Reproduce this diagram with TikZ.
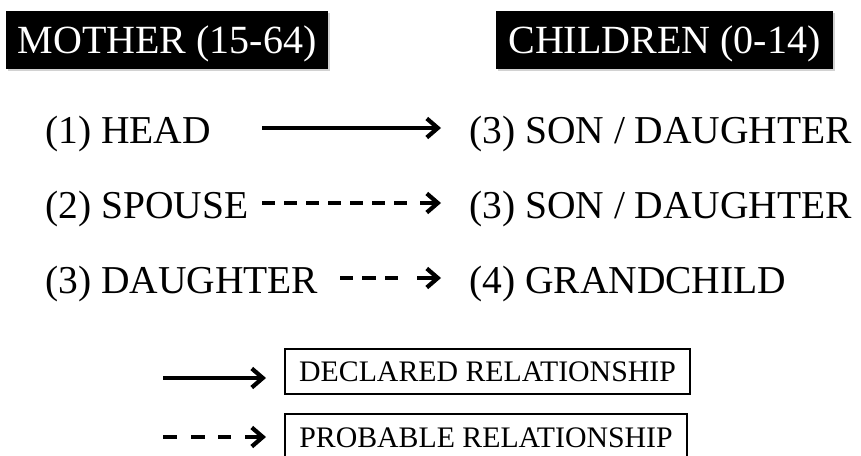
\documentclass[tikz,border=0pt]{standalone}
\usepackage{fontspec}
\setmainfont{Liberation Serif}
\usetikzlibrary{arrows.meta,shadows}
\begin{document}
\begin{tikzpicture}[x=1pt,y=-1pt,
  hdr/.style={fill=black,text=white,inner sep=0pt,minimum height=58pt,
    text height=27.5pt,text depth=0pt,font=\fontsize{40}{48}\selectfont,
    drop shadow={shadow xshift=1.5pt,shadow yshift=-1.5pt,opacity=0.35}},
  rowtxt/.style={anchor=base west,inner sep=0pt,font=\fontsize{39.5}{46}\selectfont},
  legbox/.style={draw,line width=2pt,inner sep=0pt,minimum height=45pt,
    text height=19.5pt,text depth=0pt,font=\fontsize{29.8}{34}\selectfont},
  rel/.style={line width=4.6pt,-{Straight Barb[length=11pt,width=19pt,line width=4.2pt]}},
  solidrel/.style={rel}]
\useasboundingbox (0,0) rectangle (861,455);
\clip (0,0) rectangle (861,455);
\fill[white] (0,0) rectangle (861,455);
% headers
\node[hdr,minimum width=322pt] (mother) at (167,40) {MOTHER (15-64)};
\node[hdr,minimum width=337pt] (children) at (664.5,40) {CHILDREN (0-14)};
% rows
\node[rowtxt] (head) at (45,143) {(1) HEAD};
\node[rowtxt] (spouse) at (45,218) {(2) SPOUSE};
\node[rowtxt] (dau) at (45,293) {(3) DAUGHTER};
\node[rowtxt] (son1) at (469,143) {(3) SON / DAUGHTER};
\node[rowtxt] (son2) at (469,218) {(3) SON / DAUGHTER};
\node[rowtxt] (grand) at (469,293) {(4) GRANDCHILD};
\coordinate (s1) at (262,128);
\coordinate (s2) at (262,203);
\coordinate (s3) at (340,278);
\draw[solidrel,shorten >=28pt] (s1) -- (s1 -| son1.west);
\draw[rel,shorten >=28pt,dash pattern=on 13pt off 9pt on 13pt off 9pt on 13pt off 9pt on 13pt off 9pt on 13pt off 9pt on 13pt off 9pt on 13pt off 13pt on 60pt] (s2) -- (s2 -| son2.west);
\draw[rel,shorten >=28pt,dash pattern=on 13pt off 9pt on 14pt off 9pt on 13pt off 19pt on 60pt] (s3) -- (s3 -| grand.west);
% legend
\node[legbox,minimum width=405pt] (decl) at (487.5,371.5) {DECLARED RELATIONSHIP};
\node[legbox,minimum width=402pt,minimum height=48pt] (prob) at (486,438) {PROBABLE RELATIONSHIP};
\coordinate (l1) at (163,378);
\coordinate (l2) at (163,437);
\draw[solidrel,shorten >=18pt] (l1) -- (l1 -| decl.west);
\draw[rel,shorten >=18pt,dash pattern=on 14pt off 14pt on 14pt off 13pt on 13pt off 14pt on 60pt] (l2) -- (l2 -| prob.west);
\end{tikzpicture}
\end{document}
